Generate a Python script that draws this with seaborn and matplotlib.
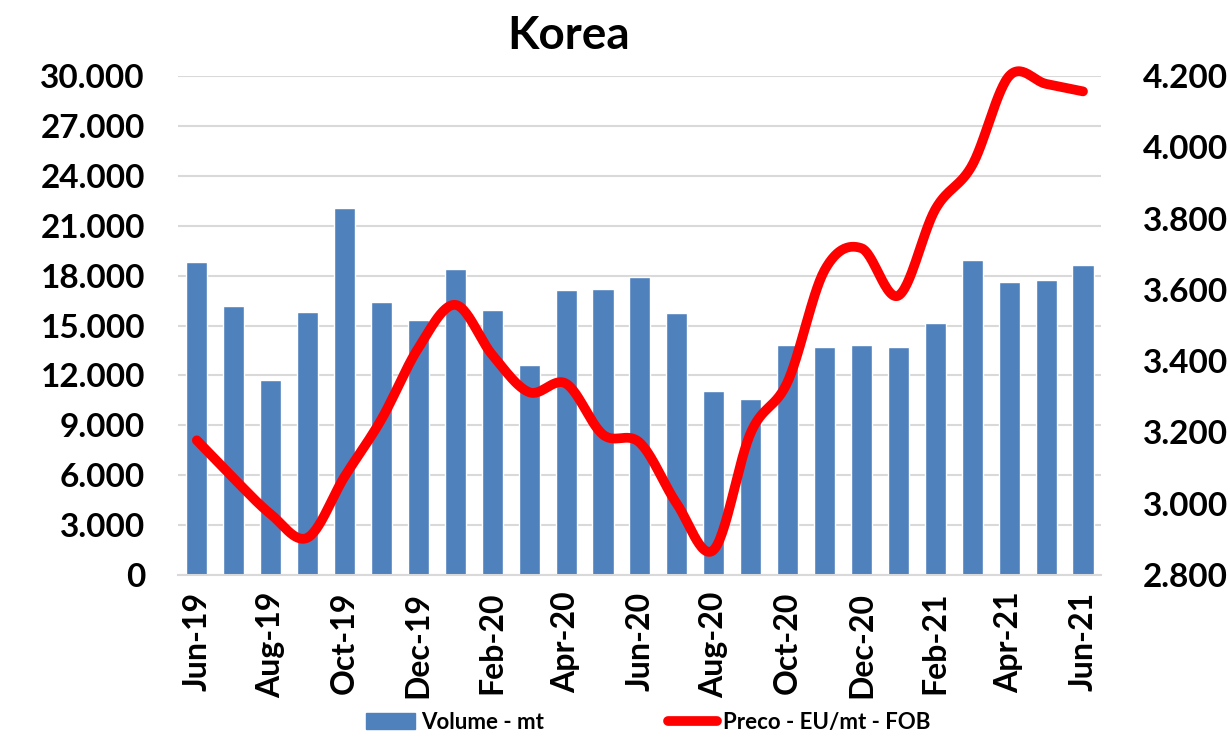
import numpy as np
import pandas as pd
import matplotlib
matplotlib.use("Agg")
import matplotlib.pyplot as plt
import seaborn as sns
from matplotlib.patches import Patch
from matplotlib.lines import Line2D
from matplotlib.ticker import FuncFormatter

# data
months = ["Jun-19", "Jul-19", "Aug-19", "Sep-19", "Oct-19", "Nov-19", "Dec-19",
          "Jan-20", "Feb-20", "Mar-20", "Apr-20", "May-20", "Jun-20", "Jul-20",
          "Aug-20", "Sep-20", "Oct-20", "Nov-20", "Dec-20", "Jan-21", "Feb-21",
          "Mar-21", "Apr-21", "May-21", "Jun-21"]
volume = [18800, 16150, 11750, 15830, 22060, 16420, 15360, 18370, 15930, 12630,
          17130, 17210, 17920, 15740, 11060, 10590, 13810, 13690, 13850, 13690,
          15130, 18940, 17600, 17720, 18640]
price = [3178, 3071, 2971, 2905, 3076, 3237, 3437, 3558, 3418, 3313, 3337, 3194,
         3171, 3000, 2871, 3199, 3342, 3655, 3717, 3584, 3826, 3950, 4200, 4178, 4157]

BAR_COLOR = "#4f81bd"
LINE_COLOR = "#ff0000"
FONT = ["Lato", "DejaVu Sans"]


def catmull_rom(x, y, steps=30):
    # Excel-style smoothed line through the data points
    px = np.concatenate([[2 * x[0] - x[1]], x, [2 * x[-1] - x[-2]]])
    py = np.concatenate([[2 * y[0] - y[1]], y, [2 * y[-1] - y[-2]]])
    t = np.linspace(0, 1, steps, endpoint=False)
    out_x, out_y = [], []
    for i in range(1, len(px) - 2):
        for p, out in ((px, out_x), (py, out_y)):
            p0, p1, p2, p3 = p[i - 1], p[i], p[i + 1], p[i + 2]
            out.extend(0.5 * (2 * p1 + (-p0 + p2) * t
                              + (2 * p0 - 5 * p1 + 4 * p2 - p3) * t ** 2
                              + (-p0 + 3 * p1 - 3 * p2 + p3) * t ** 3))
    out_x.append(x[-1])
    out_y.append(y[-1])
    return np.array(out_x), np.array(out_y)


def thousands(v, _):
    return f"{int(v):,}".replace(",", ".")


sns.set_style("white")
plt.rcParams["font.family"] = FONT
plt.rcParams["font.weight"] = "bold"
plt.rcParams["text.color"] = "black"
plt.rcParams["xtick.color"] = "black"
plt.rcParams["ytick.color"] = "black"

df = pd.DataFrame({"month": months, "volume": volume})

fig = plt.figure(figsize=(12.3, 7.42), dpi=100)
ax = fig.add_axes([0.145, 0.225, 0.7505, 0.6725])

sns.barplot(data=df, x="month", y="volume", color=BAR_COLOR, width=0.57,
            saturation=1, ax=ax, zorder=2)
ax.set_ylim(0, 30000)
ax.set_yticks(np.arange(0, 30001, 3000))
ax.yaxis.set_major_formatter(FuncFormatter(thousands))
ax.grid(axis="y", color="#d9d9d9", linewidth=1.5, zorder=0)
ax.set_axisbelow(True)
ax.set_xlim(-0.5, len(months) - 0.5)
ax.set_xticks(range(0, len(months), 2))
ax.set_xticklabels(months[::2], rotation=90)
ax.set_xlabel("")
ax.set_ylabel("")
for s in ["top", "left", "right"]:
    ax.spines[s].set_visible(False)
ax.spines["bottom"].set_color("#d9d9d9")
ax.spines["bottom"].set_linewidth(1.5)
ax.tick_params(axis="y", length=0, labelsize=24, pad=24, labelcolor="black")
ax.tick_params(axis="x", length=0, labelsize=23, pad=12, labelcolor="black")

ax2 = ax.twinx()
sx, sy = catmull_rom(np.arange(len(price), dtype=float), np.array(price, dtype=float))
ax2.plot(sx, sy, color=LINE_COLOR, linewidth=7, solid_capstyle="round",
         clip_on=False, zorder=3)
ax2.set_ylim(2800, 4200)
ax2.set_yticks(np.arange(2800, 4201, 200))
ax2.yaxis.set_major_formatter(FuncFormatter(thousands))
for s in ["top", "left", "right", "bottom"]:
    ax2.spines[s].set_visible(False)
ax2.tick_params(axis="y", length=0, labelsize=24, pad=30, labelcolor="black")

for lab in ax.get_xticklabels() + ax.get_yticklabels() + ax2.get_yticklabels():
    lab.set_fontweight("bold")

fig.text(0.4625, 0.952, "Korea", ha="center", va="center", fontsize=33,
         fontweight="bold", family=FONT, color="black")

handles = [Patch(color=BAR_COLOR, label="Volume - mt"),
           Line2D([0], [0], color=LINE_COLOR, linewidth=7, solid_capstyle="round",
                  label="Preco - EU/mt - FOB")]
fig.legend(handles=handles, loc="lower center", bbox_to_anchor=(0.527, -0.004),
           ncol=2, frameon=False, columnspacing=5.6, handlelength=2.2,
           handletextpad=0.25, borderpad=0.05,
           prop={"size": 16, "weight": "bold", "family": FONT})

fig.savefig("out.png", dpi=100)
